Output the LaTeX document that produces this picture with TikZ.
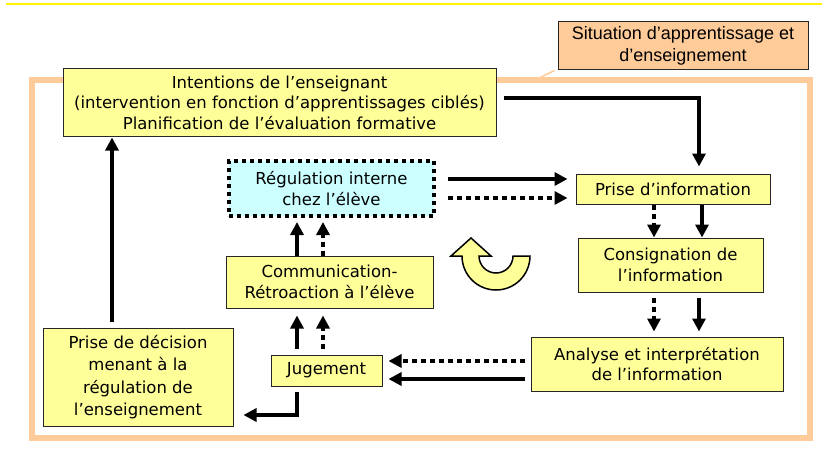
\documentclass[tikz,border=0pt]{standalone}
\usepackage{fontspec}
\setmainfont{DejaVu Sans}
\newfontfamily\arialfont{Liberation Sans}
\usetikzlibrary{arrows.meta}
\definecolor{boxyellow}{HTML}{FFFF99}
\definecolor{boxcyan}{HTML}{CCFFFF}
\definecolor{frameorange}{HTML}{FFCC99}

\begin{document}
\begin{tikzpicture}[x=1pt,y=-1pt,
  box/.style={draw=black!85,line width=1pt,fill=boxyellow,align=center,
    inner sep=0pt,font=\fontsize{16.5}{20.5}\selectfont},
  dotbox/.style={box,fill=boxcyan,draw=black,line width=4pt,
    dash pattern=on 4pt off 4pt},
  arr/.style={line width=4pt,-{Triangle[length=13pt,width=13pt]}},
  dotarr/.style={arr,dash pattern=on 5pt off 4pt}]
  \useasboundingbox (0,0) rectangle (822,460);

  % top line and frame
  \draw[yellow,line width=2pt] (6,4) -- (822,4);
  \draw[frameorange,line width=6pt] (31.5,80) rectangle (809.5,437.5);
  \coordinate (callout) at (533,81);

  \node[box,fill=frameorange,minimum width=250pt,minimum height=48pt,
    font=\arialfont\fontsize{18}{21.5}\selectfont] (sit) at (683,46)
    {Situation d’apprentissage et\\d’enseignement};
  \draw[frameorange,line width=1.5pt] ([xshift=-3pt]sit.south west) -- (callout);

  \node[box,minimum width=433pt,minimum height=67pt] (intent) at (279.5,102.5)
    {Intentions de l’enseignant\\(intervention en fonction d’apprentissages ciblés)\\Planification de l’évaluation formative};
  \node[dotbox,minimum width=205pt,minimum height=55pt] (regul) at (331.5,188.5)
    {Régulation interne\\chez l’élève};
  \node[box,minimum width=194pt,minimum height=30pt] (prise) at (673,189)
    {Prise d’information};
  \node[box,minimum width=185pt,minimum height=54pt] (consig) at (670.5,265)
    {Consignation de\\l’information};
  \node[box,minimum width=207pt,minimum height=52pt] (comm) at (329.5,282)
    {Communication-\\Rétroaction à l’élève};
  \node[box,minimum width=252pt,minimum height=54pt] (analyse) at (657,364)
    {Analyse et interprétation\\de l’information};
  \node[box,minimum width=111pt,minimum height=31pt] (jug) at (326.5,370.5)
    {Jugement};
  \node[box,minimum width=190pt,minimum height=98pt,
    font=\fontsize{16.5}{22.5}\selectfont] (decis) at (138,377)
    {Prise de décision\\menant à la\\régulation de\\l’enseignement};

  % connectors
  \draw[arr] ([xshift=7pt,yshift=4.5pt]intent.east) -| ([xshift=26pt,yshift=7pt]prise.north);
  \draw[arr] ([xshift=12pt,yshift=9.5pt]regul.east) -- ([xshift=-8pt,yshift=10pt]prise.west);
  \draw[dotarr] ([xshift=12pt,yshift=-9.5pt]regul.east) -- ([xshift=-8pt,yshift=-9pt]prise.west);
  \draw[dotarr] ([xshift=-19pt]prise.south) -- ([xshift=-16.5pt]consig.north);
  \draw[arr] ([xshift=29pt]prise.south) -- ([xshift=31.5pt]consig.north);
  \draw[dotarr] ([xshift=-16.5pt,yshift=-5pt]consig.south) -- ([xshift=-3pt,yshift=5pt]analyse.north);
  \draw[arr] ([xshift=28.5pt,yshift=-5pt]consig.south) -- ([xshift=42pt,yshift=5pt]analyse.north);
  \draw[dotarr] ([xshift=-6pt,yshift=3pt]analyse.west) -- ([xshift=6pt,yshift=9.5pt]jug.east);
  \draw[arr] ([xshift=-6pt,yshift=-15pt]analyse.west) -- ([xshift=6pt,yshift=-8.5pt]jug.east);
  \draw[arr] ([xshift=-29.5pt,yshift=6pt]jug.north) -- ([xshift=-32.5pt,yshift=-7pt]comm.south);
  \draw[dotarr] ([xshift=-3.5pt,yshift=6pt]jug.north) -- ([xshift=-6.5pt,yshift=-7pt]comm.south);
  \draw[arr] ([xshift=-32.5pt]comm.north) -- ([xshift=-34.5pt,yshift=-4pt]regul.south);
  \draw[dotarr] ([xshift=-6.5pt]comm.north) -- ([xshift=-8.5pt,yshift=-4pt]regul.south);
  \draw[arr] ([xshift=-29.5pt,yshift=-5pt]jug.south) |- ([xshift=10pt,yshift=-38pt]decis.east);
  \draw[arr] ([xshift=-26pt,yshift=6pt]decis.north) -- ([xshift=-167.5pt,yshift=-1pt]intent.south);

  % turning arrow
  \draw[fill=boxyellow,line width=1.5pt,line join=miter]
    (530,256) arc[start angle=0,end angle=180,radius=34]
    -- (451,256) -- (471,238) -- (491,256) -- (479,256)
    arc[start angle=180,end angle=0,radius=17] -- cycle;
\end{tikzpicture}
\end{document}
